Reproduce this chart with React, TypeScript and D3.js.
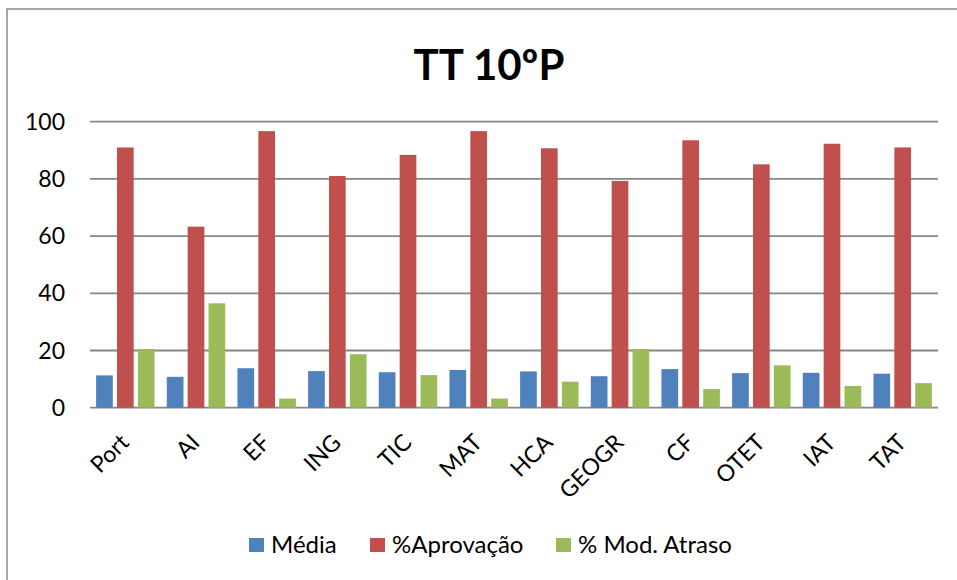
import React from 'react';
import * as d3 from 'd3';

// values
const categories = ['Port', 'AI', 'EF', 'ING', 'TIC', 'MAT', 'HCA', 'GEOGR', 'CF', 'OTET', 'IAT', 'TAT'];
const media = [11.3, 10.8, 13.8, 12.8, 12.4, 13.2, 12.7, 11.0, 13.5, 12.1, 12.2, 11.9];
const aprovacao = [91.0, 63.3, 96.7, 81.0, 88.4, 96.7, 90.7, 79.3, 93.5, 85.1, 92.3, 91.0];
const modAtraso = [20.5, 36.5, 3.2, 18.7, 11.4, 3.2, 9.1, 20.5, 6.5, 14.8, 7.6, 8.6];
const seriesNames = ['Média', '%Aprovação', '% Mod. Atraso'];
const yTicks = [0, 20, 40, 60, 80, 100];

const colors = ['#4F81BD', '#C0504D', '#9BBB59'];
const font = 'Lato, "Open Sans", sans-serif';

const W = 957;
const H = 580;
const plot = { left: 90, right: 938, top: 121.7, bottom: 407.7 };

export default function App() {
  const values = [media, aprovacao, modAtraso];

  const x = d3.scaleBand<string>()
    .domain(categories)
    .range([plot.left, plot.right])
    .paddingInner(0.173)
    .paddingOuter(0.0865);

  // position of each series inside a category
  const xSub = d3.scaleBand<number>()
    .domain([0, 1, 2])
    .range([0, x.bandwidth()])
    .paddingInner(0.2);

  const y = d3.scaleLinear().domain([0, 100]).range([plot.bottom, plot.top]);

  // legend item x positions (square left edge)
  const legendX = [249, 370, 556];

  return (
    <svg width={W} height={H} style={{ position: 'absolute', left: 0, top: 0, background: '#fff' }}>
      <rect x={7} y={9} width={W} height={H} fill="#fff" stroke="#8c8c8c" strokeWidth={1.5} />

      <text x={489} y={80} textAnchor="middle" fontFamily={font} fontWeight="bold" fontSize={42} fill="#000">
        TT 10ºP
      </text>

      {yTicks.map(t => (
        <g key={t}>
          <line x1={plot.left} x2={plot.right} y1={y(t)} y2={y(t)} stroke="#868686" strokeWidth={1.8} />
          <text x={65} y={y(t)} dy="0.35em" textAnchor="end" fontFamily={font} fontSize={23} fill="#000">
            {t}
          </text>
        </g>
      ))}

      {categories.map((c, i) => (
        <g key={c} transform={`translate(${x(c)},0)`}>
          {values.map((s, k) => (
            <rect
              key={k}
              x={xSub(k)}
              y={y(s[i])}
              width={xSub.bandwidth()}
              height={y(0) - y(s[i])}
              fill={colors[k]}
            />
          ))}
        </g>
      ))}

      {categories.map(c => {
        const cx = (x(c) ?? 0) + x.bandwidth() / 2;
        return (
          <text
            key={c}
            transform={`translate(${cx + 5},${444}) rotate(-45)`}
            textAnchor="end"
            fontFamily={font}
            fontSize={23}
            fill="#000"
          >
            {c}
          </text>
        );
      })}

      {seriesNames.map((n, k) => (
        <g key={n} transform={`translate(${legendX[k]},538)`}>
          <rect x={0} y={0} width={15} height={14} fill={colors[k]} />
          <text x={22} y={14.5} fontFamily={font} fontSize={24} fill="#000">
            {n}
          </text>
        </g>
      ))}
    </svg>
  );
}
